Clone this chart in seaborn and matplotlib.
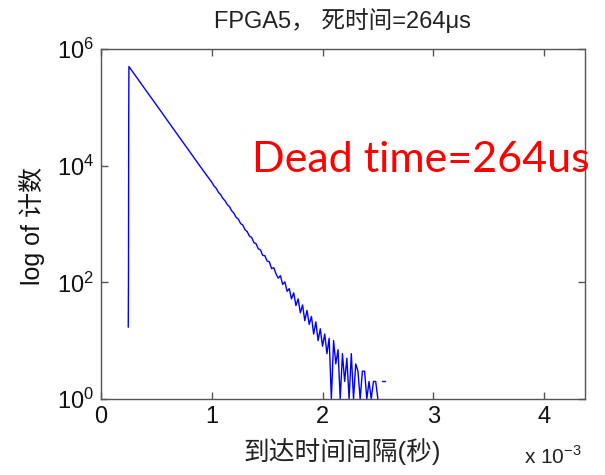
import numpy as np
import pandas as pd
import matplotlib
matplotlib.use("Agg")
import matplotlib.pyplot as plt
import seaborn as sns

# ---- data (x in units of 1e-3 s, counts per bin) ----
x_head = [0.246, 0.248, 0.250, 0.252, 0.30, 0.40, 0.50, 0.60, 0.70, 0.80, 0.90]
c_head = [17, 113, 42000, 500000, 373000, 202000, 110000, 59400, 32200, 17500, 9460]

x_tail = [1.00, 1.02, 1.04, 1.06, 1.08, 1.10, 1.12, 1.14, 1.16, 1.18,
          1.20, 1.22, 1.24, 1.26, 1.28, 1.30, 1.32, 1.34, 1.36, 1.38,
          1.40, 1.42, 1.44, 1.46, 1.48, 1.50, 1.52, 1.54, 1.56, 1.58,
          1.60, 1.62, 1.64, 1.66, 1.68, 1.70, 1.72, 1.74, 1.76, 1.78,
          1.80, 1.82, 1.84, 1.86, 1.88, 1.90, 1.92, 1.94, 1.96, 1.98,
          2.00, 2.02, 2.04, 2.06, 2.08, 2.10, 2.12, 2.14, 2.16, 2.18,
          2.20, 2.22, 2.24, 2.26, 2.28, 2.30, 2.32, 2.34, 2.36, 2.38,
          2.40, 2.42, 2.44, 2.46, 2.48, 2.50, 2.52, 2.54, 2.56]
c_tail = [5200, 4500, 4100, 3500, 3200, 2750, 2500, 2150, 1980, 1680,
          1530, 1300, 1210, 1020, 960, 800, 740, 620, 590, 480,
          460, 375, 360, 290, 285, 232, 225, 172, 178, 140,
          118, 130, 92, 102, 70, 78, 52, 66, 40, 52,
          30, 41, 22, 33, 19, 26, 13, 21, 10, 16,
          8, 13, 6, 11, 1, 10, 4, 7, 1, 6,
          2, 5, 1, 6, 1, 4, 3, 1, 3, 3,
          1, 2, 1, 2, 2, 1, 0, 2, 2]

x_ticks = [0, 1, 2, 3, 4]
y_ticks = [1e0, 1e2, 1e4, 1e6]

title = "FPGA5， 死时间=264μs"
xlabel = "到达时间间隔(秒)"
ylabel = "log of 计数"
note = "Dead time=264us"

# ---- build table; zero bins break the line (log of 0) ----
xs = x_head + x_tail
cs = c_head + c_tail
seg, s = [], 0
for c in cs:
    if c <= 0:
        s += 1
    seg.append(s)
df = pd.DataFrame({"x": xs, "count": cs, "seg": seg})
df = df[df["count"] > 0]

sns.set_style("white")
plt.rcParams["font.family"] = ["Liberation Sans", "Noto Sans CJK SC"]
plt.rcParams["mathtext.fontset"] = "custom"
plt.rcParams["mathtext.rm"] = "Liberation Sans"

W, H = 605, 475
fig = plt.figure(figsize=(6.05, 4.75), dpi=100)
ax = fig.add_axes([101 / W, 1 - 399 / H, (585 - 101) / W, (399 - 49) / H])
ax.set_yscale("log")

sns.lineplot(data=df, x="x", y="count", units="seg", estimator=None,
             color="#0000ff", linewidth=1.0, ax=ax, legend=False)

ax.set_xlim(0, 4.37)
ax.set_ylim(1e0, 1e6)
ax.set_xticks(x_ticks)
ax.set_xticklabels([str(t) for t in x_ticks])
ax.set_yticks(y_ticks)
ax.yaxis.set_minor_locator(matplotlib.ticker.NullLocator())
ax.xaxis.set_minor_locator(matplotlib.ticker.NullLocator())

for sp in ax.spines.values():
    sp.set_visible(True)
    sp.set_color("#555555")
    sp.set_linewidth(1.0)
ax.tick_params(axis="both", which="major", direction="in", length=5, width=1,
               color="#555555", labelsize=17, labelcolor="#111111",
               top=True, right=True, bottom=True, left=True, pad=5)
ax.set_xlabel("")
ax.set_ylabel("")

fig.text(342 / W, 1 - 21 / H, title, fontsize=17, color="#222222",
         ha="center", va="center")
fig.text(342 / W, 1 - 452 / H, xlabel, fontsize=18.5, color="#222222",
         ha="center", va="center")
fig.text(32 / W, 1 - 226 / H, ylabel, fontsize=18, color="#111111",
         ha="center", va="center", rotation=90)
fig.text(553 / W, 1 - 457 / H, r"x 10$^{-3}$", fontsize=15, color="#222222",
         ha="center", va="center")
fig.text(252 / W, 1 - 160 / H, note, fontsize=31, color="#ff0000",
         family=["Lato", "DejaVu Sans"], ha="left", va="center")

fig.savefig("out.png", dpi=100)
